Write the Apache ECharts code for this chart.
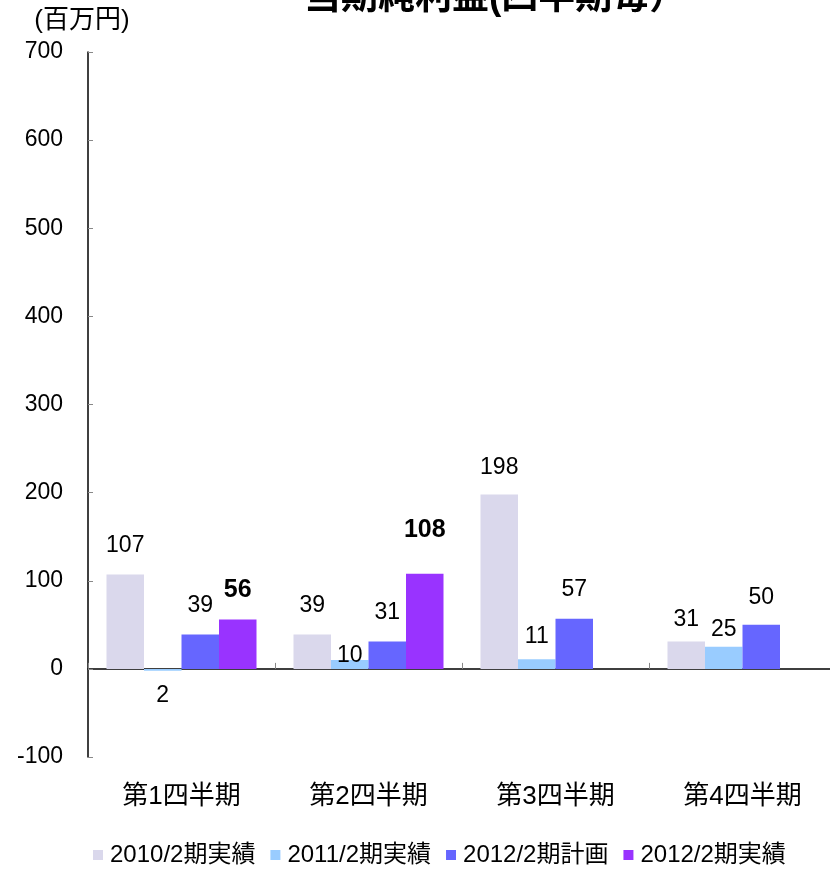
<!DOCTYPE html>
<html>
<head>
<meta charset="utf-8">
<script src="https://cdn.jsdelivr.net/npm/echarts@6/dist/echarts.min.js"></script>
<style>
  html, body { margin: 0; padding: 0; background: #ffffff; }
  #chart { width: 830px; height: 869px; }
</style>
</head>
<body>
<div id="chart"></div>
<script>
// Quarterly net income (millions of yen)
const categories = ['第1四半期', '第2四半期', '第3四半期', '第4四半期'];
const seriesNames = ['2010/2期実績', '2011/2期実績', '2012/2期計画', '2012/2期実績'];
const actual2010 = [107, 39, 198, 31];
const actual2011 = [-2, 10, 11, 25];
const plan2012 = [39, 31, 57, 50];
const actual2012 = [56, 108, null, null];
const yTicks = [-100, 0, 100, 200, 300, 400, 500, 600, 700];

// Appearance
const FONT = "'Liberation Sans', Arial, 'Noto Sans CJK JP', sans-serif";
const colors = ['#DAD8EC', '#99CCFF', '#6666FF', '#9933FF'];
const labelSize = [23, 23, 23, 25];
const labelBold = [false, false, false, true];
// gap between each bar end and its value label, per series and quarter
const labelGap = [
  [17, 17, 15, 10],
  [14, -7, 11, 6],
  [17, 17, 17, 16],
  [17, 31, 17, 17]
];

const seriesValues = [actual2010, actual2011, plan2012, actual2012];

const series = seriesValues.map((vals, si) => ({
  name: seriesNames[si],
  type: 'bar',
  xAxisIndex: 0,
  barWidth: 37.5,
  barGap: '0%',
  itemStyle: { color: colors[si] },
  data: vals.map((v, qi) => ({
    value: v,
    label: {
      show: v !== null,
      position: v < 0 ? 'bottom' : 'top',
      distance: labelGap[si][qi]
    }
  })),
  label: {
    color: '#000',
    fontFamily: FONT,
    fontSize: labelSize[si],
    fontWeight: labelBold[si] ? 'bold' : 'normal',
    // magnitudes are printed without sign
    formatter: p => String(Math.abs(p.value))
  }
}));

const chart = echarts.init(document.getElementById('chart'), null, { renderer: 'canvas' });
chart.setOption({
  animation: false,
  backgroundColor: '#ffffff',
  textStyle: { fontFamily: FONT, color: '#000' },
  title: {
    text: '当期純利益(四半期毎）',
    left: 304,
    top: -20,
    padding: 0,
    textStyle: { fontFamily: FONT, fontSize: 37, fontWeight: 'bold', color: '#000' }
  },
  legend: {
    left: 93,
    top: 843,
    itemWidth: 10,
    itemHeight: 10,
    itemGap: 15,
    padding: 0,
    icon: 'rect',
    data: seriesNames,
    textStyle: { fontFamily: FONT, fontSize: 24, color: '#000', padding: [0, 0, 0, 2] }
  },
  grid: { left: 88, top: 52, width: 748, bottom: 112, containLabel: false, outerBoundsMode: 'none' },
  xAxis: [
    {
      type: 'category',
      data: categories,
      position: 'bottom',
      axisLine: { show: false, onZero: false },
      axisTick: { show: false },
      axisLabel: { margin: 27, fontSize: 26, color: '#000', fontFamily: FONT }
    },
    {
      type: 'category',
      data: categories,
      position: 'bottom',
      axisLine: { show: true, onZero: true, lineStyle: { color: '#000', width: 1.5 } },
      axisTick: { show: true, inside: true, length: 6, lineStyle: { color: '#888' } },
      axisLabel: { show: false }
    }
  ],
  yAxis: {
    type: 'value',
    min: yTicks[0],
    max: yTicks[yTicks.length - 1],
    interval: 100,
    name: '(百万円)',
    nameLocation: 'end',
    nameGap: 31,
    nameTextStyle: {
      fontFamily: FONT, fontSize: 26, color: '#000',
      align: 'center', verticalAlign: 'middle', padding: [0, 12, 0, 0]
    },
    axisLine: { show: true, lineStyle: { color: '#000', width: 1.5 } },
    axisTick: { show: true, inside: true, length: 5, lineStyle: { color: '#888' } },
    splitLine: { show: false },
    axisLabel: { margin: 25, fontSize: 23, color: '#000', fontFamily: FONT }
  },
  series: series
});
</script>
</body>
</html>
